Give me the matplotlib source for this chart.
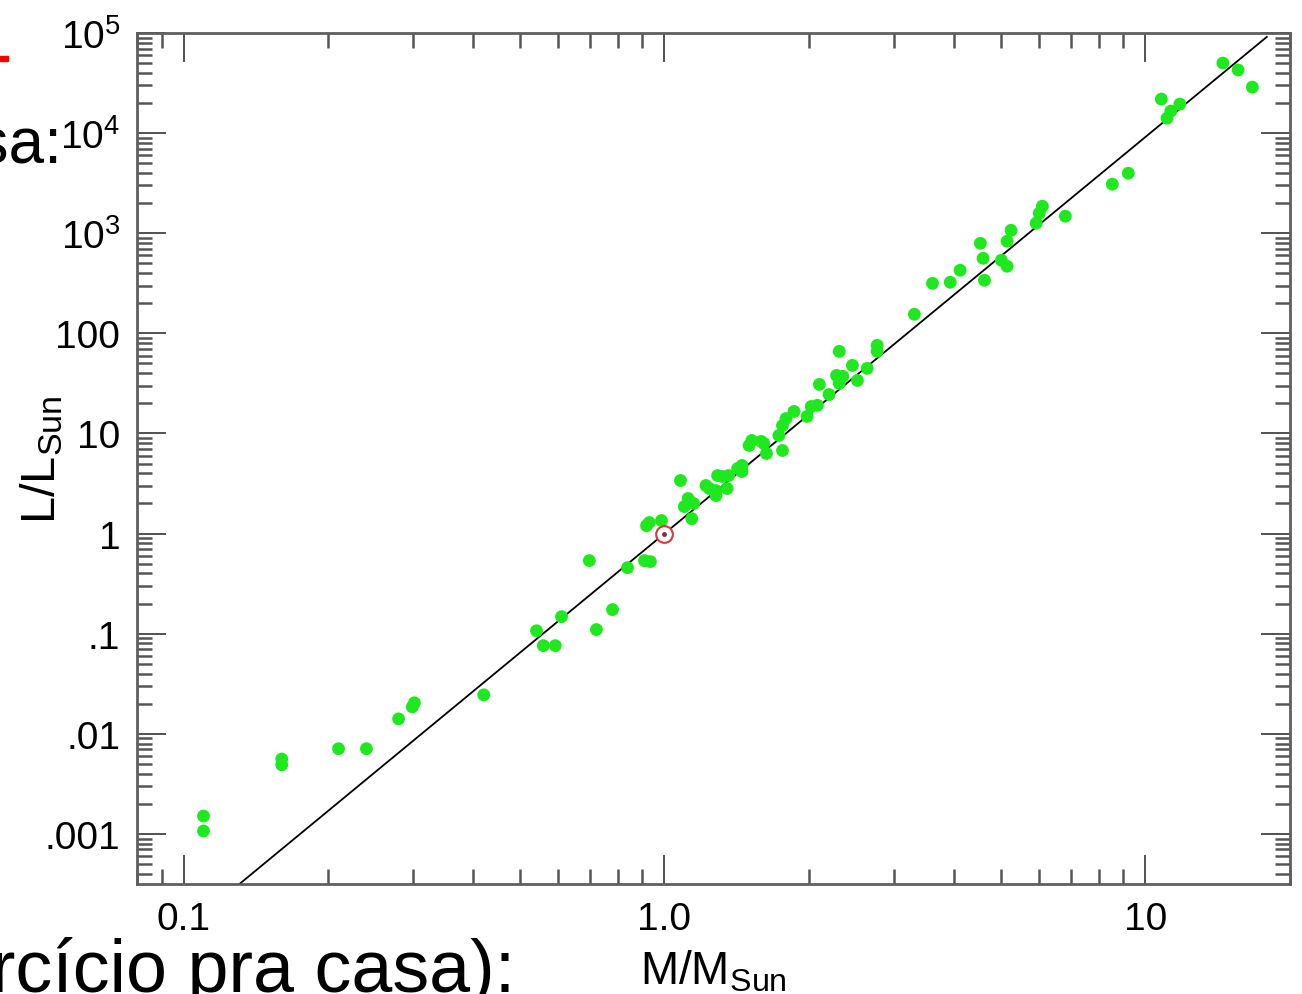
import numpy as np
import matplotlib
matplotlib.use("Agg")
import matplotlib.pyplot as plt
from matplotlib.ticker import FixedLocator, FixedFormatter, LogLocator, NullFormatter
from matplotlib.patches import Rectangle

plt.rcParams['font.family'] = ['Liberation Sans', 'DejaVu Sans']
plt.rcParams['mathtext.fontset'] = 'custom'
plt.rcParams['mathtext.rm'] = 'Liberation Sans'
plt.rcParams['mathtext.it'] = 'Liberation Sans'

# stars (M/Msun, L/Lsun)
mass = [0.110, 0.110, 0.160, 0.160, 0.210, 0.240, 0.280, 0.299, 0.302, 0.421,
        0.542, 0.560, 0.593, 0.611, 0.698, 0.722, 0.780, 0.838, 0.909, 0.935,
        0.918, 0.930, 0.986, 1.08, 1.12, 1.10, 1.14, 1.15, 1.24, 1.29,
        1.28, 1.35, 1.36, 1.32, 1.42, 1.45, 1.45, 1.50, 1.52, 1.59,
        1.61, 1.63, 1.76, 1.73, 1.79, 1.76, 1.86, 1.98, 2.02, 2.08,
        2.10, 2.20, 2.31, 2.31, 2.28, 2.35, 2.46, 2.52, 2.64, 2.77,
        2.77, 3.31, 3.61, 3.93, 4.12, 4.54, 4.60, 4.63, 5.02, 5.16,
        5.16, 5.26, 5.93, 6.02, 6.11, 6.82, 8.54, 9.22, 10.8, 11.1,
        11.3, 11.8, 14.5, 15.6, 16.7, 1.22, 1.28]
lum = [0.00151, 0.00107, 0.0056, 0.0049, 0.0071, 0.0071, 0.0141, 0.0186, 0.0204, 0.0245,
       0.107, 0.076, 0.076, 0.148, 0.537, 0.110, 0.174, 0.457, 0.537, 0.525,
       1.20, 1.29, 1.35, 3.39, 2.24, 1.86, 1.41, 2.0, 2.82, 3.80,
       2.40, 2.82, 3.80, 3.72, 4.47, 4.79, 4.17, 7.59, 8.51, 8.32,
       7.94, 6.31, 6.76, 9.55, 14.1, 12.0, 16.6, 14.8, 18.6, 19.1,
       30.9, 24.5, 31.6, 66.1, 38.0, 37.2, 47.9, 33.9, 44.7, 75.9,
       66.1, 155, 316, 324, 427, 794, 562, 339, 537, 468,
       832, 1070, 1260, 1585, 1860, 1480, 3090, 3980, 21900, 14100,
       16600, 19500, 50100, 42700, 28800, 3.02, 2.69]

# L = M^a fit line
fit_exponent = 3.96
fit_mass = [0.1, 17.9]

x_ticks = [0.1, 1.0, 10]
x_labels = ['0.1', '1.0', '10']
y_ticks = [1e-3, 1e-2, 1e-1, 1, 10, 100, 1e3, 1e4, 1e5]
y_labels = ['.001', '.01', '.1', '1', '10', '100',
            r'$\mathregular{10^3}$', r'$\mathregular{10^4}$', r'$\mathregular{10^5}$']


def main():
    fig = plt.figure(figsize=(13.02, 9.95), dpi=100)
    ax = fig.add_axes([137 / 1302, 1 - 885 / 995, (1290 - 137) / 1302, (885 - 34) / 995])

    ax.set_xscale('log')
    ax.set_yscale('log')
    ax.set_xlim(0.08, 20)
    ax.set_ylim(10 ** -3.5, 1e5)

    fm = np.array(fit_mass)
    ax.plot(fm, fm ** fit_exponent, color='black', lw=1.3, zorder=2)
    ax.scatter(mass, lum, s=85, color='#1ee81e', edgecolors='none', zorder=3)

    # the Sun
    ax.plot([1.0], [1.0], marker='o', ms=12, mfc='white', mec='#d03a3a', mew=1.5, zorder=4)
    ax.plot([1.0], [1.0], marker='o', ms=2.5, color='#803030', zorder=5)

    ax.xaxis.set_major_locator(FixedLocator(x_ticks))
    ax.xaxis.set_major_formatter(FixedFormatter(x_labels))
    ax.xaxis.set_minor_locator(LogLocator(base=10, subs=np.arange(2, 10)))
    ax.xaxis.set_minor_formatter(NullFormatter())
    ax.yaxis.set_major_locator(FixedLocator(y_ticks))
    ax.yaxis.set_major_formatter(FixedFormatter(y_labels))
    ax.yaxis.set_minor_locator(LogLocator(base=10, subs=np.arange(2, 10), numticks=20))
    ax.yaxis.set_minor_formatter(NullFormatter())

    ax.tick_params(which='both', direction='in', top=True, right=True, labelsize=28, pad=12)
    ax.tick_params(which='major', length=21, width=1.1, color='#222222')
    ax.tick_params(which='minor', length=11, width=1.8, color='#555555')

    for s in ax.spines.values():
        s.set_color('#5f5f5f')
        s.set_linewidth(2)

    ax.set_xlabel(r'$\mathregular{M/M_{Sun}}$', fontsize=33, labelpad=8)
    ax.set_ylabel(r'$\mathregular{L/L_{Sun}}$', fontsize=35)
    ax.yaxis.set_label_coords(-0.062, 0.5)

    # slide text behind the chart
    fig.text(63 / 1302, 1 - 163 / 995, 'massa:', fontsize=46, ha='right', va='baseline')
    fig.text(515 / 1302, 1 - 992 / 995, 'Exercício pra casa):', fontsize=53, ha='right', va='baseline')
    fig.patches.append(Rectangle((0, 1 - 62 / 995), 8 / 1302, 5 / 995,
                                 transform=fig.transFigure, color='red'))

    fig.savefig('out.png', dpi=100)


if __name__ == "__main__":
    main()
